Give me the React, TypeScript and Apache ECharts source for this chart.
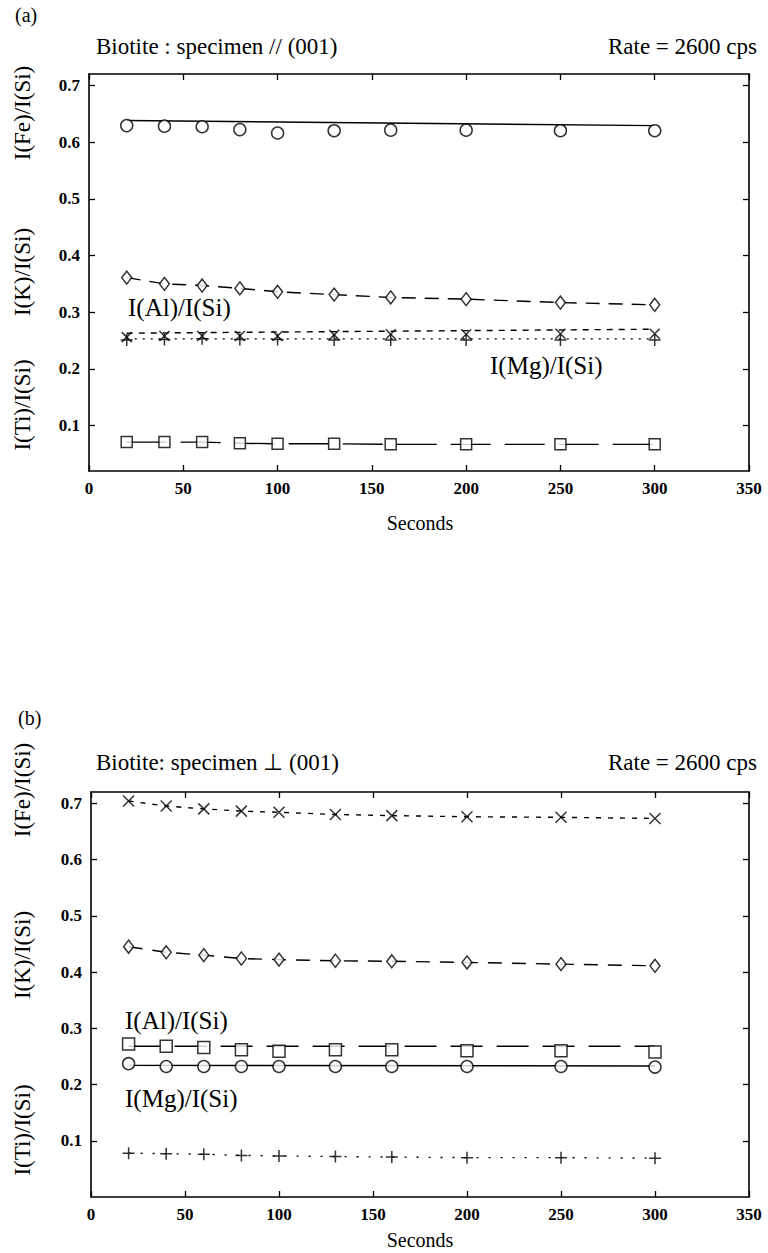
import React, { useEffect, useRef } from "react";
import * as echarts from "echarts";

// ---------- data ----------
const seconds = [20, 40, 60, 80, 100, 130, 160, 200, 250, 300];
const fitX = [20, 300];
const yTicks = [0.1, 0.2, 0.3, 0.4, 0.5, 0.6, 0.7];
const xTicks = [0, 50, 100, 150, 200, 250, 300, 350];

// (a) specimen // (001)
const aFe = [0.629, 0.628, 0.627, 0.622, 0.616, 0.620, 0.621, 0.621, 0.620, 0.620];
const aFeFit = [0.638, 0.629];
const aK = [0.361, 0.350, 0.347, 0.342, 0.336, 0.331, 0.326, 0.323, 0.317, 0.313];
const aAl = [0.256, 0.258, 0.258, 0.258, 0.258, 0.260, 0.261, 0.261, 0.262, 0.262];
const aAlFit = [0.263, 0.270];
const aMg = [0.251, 0.252, 0.253, 0.252, 0.252, 0.251, 0.251, 0.251, 0.251, 0.251];
const aMgFit = [0.253, 0.253];
const aTi = [0.071, 0.071, 0.071, 0.069, 0.068, 0.068, 0.067, 0.067, 0.067, 0.067];

// (b) specimen ⊥ (001)
const bFe = [0.704, 0.695, 0.690, 0.686, 0.684, 0.680, 0.678, 0.676, 0.675, 0.673];
const bK = [0.445, 0.435, 0.430, 0.424, 0.422, 0.420, 0.419, 0.417, 0.414, 0.411];
const bAl = [0.272, 0.268, 0.266, 0.262, 0.259, 0.262, 0.262, 0.260, 0.260, 0.258];
const bAlFit = [0.268, 0.268];
const bMg = [0.237, 0.232, 0.232, 0.232, 0.232, 0.232, 0.232, 0.232, 0.232, 0.231];
const bMgFit = [0.234, 0.233];
const bTi = [0.078, 0.077, 0.076, 0.074, 0.073, 0.072, 0.071, 0.070, 0.070, 0.069];

const FONT = "'Liberation Serif', 'Times New Roman', serif";
const CROSS = "path://M0,0L10,10M10,0L0,10";
const PLUS = "path://M5,0L5,10M0,5L10,5";

const pair = (xs: number[], ys: number[]) => xs.map((x, i) => [x, ys[i]]);

function markers(xi: number, yi: number, ys: number[], symbol: string, size: any, fill = "#fff") {
  return {
    type: "scatter",
    xAxisIndex: xi,
    yAxisIndex: yi,
    data: pair(seconds, ys),
    symbol,
    symbolSize: size,
    itemStyle: { color: fill, borderColor: "#000", borderWidth: 1.5 },
    z: 5,
  };
}
function line(xi: number, yi: number, xs: number[], ys: number[], type: any) {
  return {
    type: "line",
    xAxisIndex: xi,
    yAxisIndex: yi,
    data: pair(xs, ys),
    showSymbol: false,
    symbol: "none",
    lineStyle: { color: "#000", width: 1.4, type },
    z: 3,
  };
}

const axisLineStyle = { show: true, onZero: false, lineStyle: { color: "#000", width: 1.6 } };
const tickStyle = { color: "#000", width: 1.3 };

function xAxisPair(gridIndex: number) {
  const common = {
    type: "value",
    gridIndex,
    min: 0,
    max: 350,
    interval: 50,
    splitLine: { show: false },
    axisLine: axisLineStyle,
    axisTick: { show: true, inside: true, length: 6, lineStyle: tickStyle },
  };
  return [
    {
      ...common,
      position: "bottom",
      axisLabel: {
        show: true,
        margin: 9,
        color: "#000",
        fontFamily: FONT,
        fontSize: 17,
        fontWeight: "bold",
        customValues: xTicks,
      },
    },
    { ...common, position: "top", axisLabel: { show: false } },
  ];
}

function yAxisPair(gridIndex: number, min: number) {
  const common = {
    type: "value",
    gridIndex,
    min,
    max: 0.72,
    splitLine: { show: false },
    axisLine: axisLineStyle,
    axisTick: {
      show: true,
      inside: true,
      length: 6,
      customValues: yTicks,
      lineStyle: tickStyle,
    },
  };
  return [
    {
      ...common,
      position: "left",
      axisLabel: {
        show: true,
        margin: 9,
        color: "#000",
        fontFamily: FONT,
        fontSize: 17,
        fontWeight: "bold",
        customValues: yTicks,
        formatter: (v: number) => v.toFixed(1),
      },
    },
    { ...common, position: "right", axisLabel: { show: false } },
  ];
}

function txt(x: number, y: number, text: string, opts: any = {}) {
  return {
    type: "text",
    x,
    y,
    rotation: opts.rotation || 0,
    style: {
      text,
      fill: "#000",
      font: `${opts.weight || "normal"} ${opts.size || 23}px ${FONT}`,
      textAlign: opts.align || "left",
      textVerticalAlign: "middle",
    },
  };
}

const ROT = { align: "center", rotation: Math.PI / 2, size: 23 };
const LBL = { size: 25 };

export default function App() {
  const ref = useRef<HTMLDivElement>(null);
  useEffect(() => {
    const chart = echarts.init(ref.current!, null, { renderer: "svg" });
    const option: any = {
      animation: false,
      backgroundColor: "#fff",
      grid: [
        { left: 89, top: 74, width: 660, height: 397, show: false },
        { left: 91, top: 792, width: 658, height: 405, show: false },
      ],
      xAxis: [...xAxisPair(0), ...xAxisPair(1)],
      yAxis: [...yAxisPair(0, 0.02), ...yAxisPair(1, 0.0)],
      series: [
        // (a)
        line(0, 0, fitX, aFeFit, "solid"),
        markers(0, 0, aFe, "circle", 12),
        line(0, 0, seconds, aK, [14, 9]),
        markers(0, 0, aK, "diamond", [10, 13]),
        line(0, 0, fitX, aAlFit, [6, 6]),
        markers(0, 0, aAl, CROSS, 10, "none"),
        line(0, 0, fitX, aMgFit, [2, 6]),
        markers(0, 0, aMg, PLUS, 12, "none"),
        line(0, 0, seconds, aTi, [40, 14]),
        markers(0, 0, aTi, "rect", 11),
        // (b)
        line(2, 2, seconds, bFe, [5, 7]),
        markers(2, 2, bFe, CROSS, 11, "none"),
        line(2, 2, seconds, bK, [14, 10]),
        markers(2, 2, bK, "diamond", [10, 13]),
        line(2, 2, fitX, bAlFit, [32, 14]),
        markers(2, 2, bAl, "rect", 12),
        line(2, 2, fitX, bMgFit, "solid"),
        markers(2, 2, bMg, "circle", 12),
        line(2, 2, seconds, bTi, [2, 10]),
        markers(2, 2, bTi, PLUS, 12, "none"),
      ],
      graphic: [
        // (a)
        txt(15, 15, "(a)", { size: 20 }),
        txt(96, 46, "Biotite : specimen // (001)"),
        txt(757, 46, "Rate = 2600 cps", { align: "right" }),
        txt(420, 523, "Seconds", { align: "center", size: 20 }),
        txt(22, 113, "I(Fe)/I(Si)", ROT),
        txt(22, 272, "I(K)/I(Si)", ROT),
        txt(22, 405, "I(Ti)/I(Si)", ROT),
        txt(128, 307, "I(Al)/I(Si)", LBL),
        txt(490, 365, "I(Mg)/I(Si)", LBL),
        // (b)
        txt(18, 718, "(b)", { size: 20 }),
        txt(96, 762, "Biotite: specimen ⊥ (001)"),
        txt(757, 762, "Rate = 2600 cps", { align: "right" }),
        txt(420, 1240, "Seconds", { align: "center", size: 20 }),
        txt(22, 790, "I(Fe)/I(Si)", ROT),
        txt(22, 955, "I(K)/I(Si)", ROT),
        txt(22, 1130, "I(Ti)/I(Si)", ROT),
        txt(125, 1020, "I(Al)/I(Si)", LBL),
        txt(125, 1098, "I(Mg)/I(Si)", LBL),
      ],
    };
    chart.setOption(option);
    return () => chart.dispose();
  }, []);
  return (
    <div
      ref={ref}
      style={{ position: "absolute", left: 0, top: 0, width: 768, height: 1253, background: "#fff" }}
    />
  );
}
